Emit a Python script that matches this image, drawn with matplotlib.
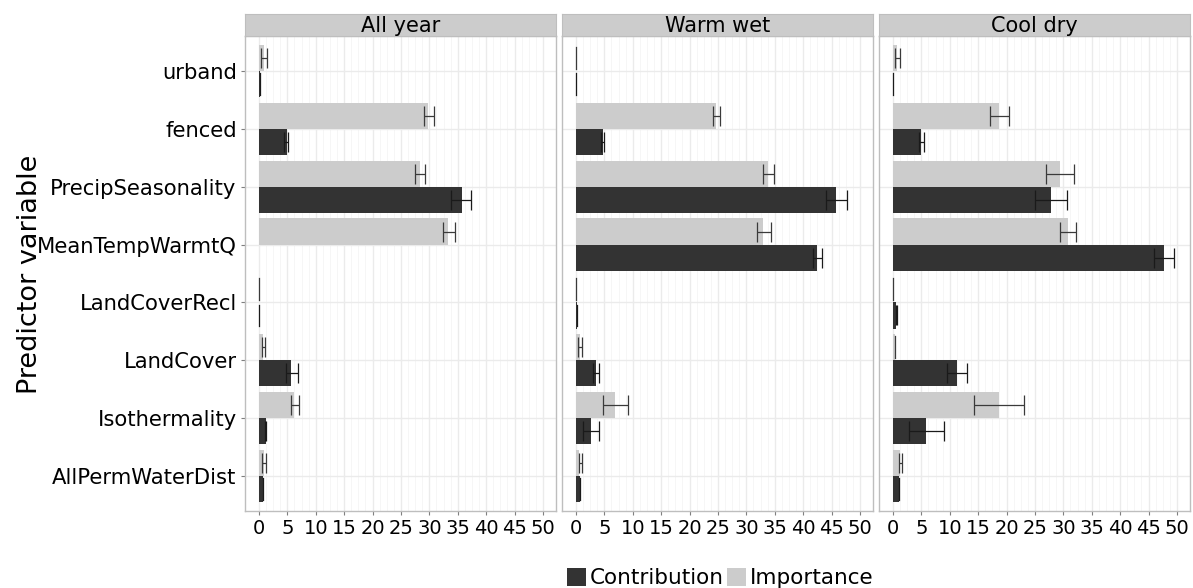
import numpy as np
import matplotlib.pyplot as plt
from matplotlib.patches import Patch

plt.rcParams['font.family'] = ['DejaVu Sans']

predictors = ["urband", "fenced", "PrecipSeasonality", "MeanTempWarmtQ",
              "LandCoverRecl", "LandCover", "Isothermality", "AllPermWaterDist"]
seasons = ["All year", "Warm wet", "Cool dry"]

# importance (mean, lower, upper), top-to-bottom order of predictors
imp_all = [0.9, 29.8, 28.3, 33.3, 0.1, 0.8, 6.2, 0.9]
imp_all_lo = [0.3, 29.0, 27.5, 32.4, 0.0, 0.5, 5.6, 0.6]
imp_all_hi = [1.5, 30.8, 29.3, 34.5, 0.2, 1.1, 7.1, 1.3]
con_all = [0.2, 4.9, 35.7, 0.0, 0.1, 5.7, 1.2, 0.8]
con_all_lo = [0.1, 4.4, 33.9, 0.0, 0.0, 4.8, 1.0, 0.7]
con_all_hi = [0.3, 5.1, 37.4, 0.0, 0.2, 6.8, 1.3, 0.9]

imp_warm = [0.1, 24.7, 33.9, 32.9, 0.1, 0.7, 6.9, 0.6]
imp_warm_lo = [0.0, 24.2, 32.9, 31.8, 0.0, 0.4, 4.8, 0.5]
imp_warm_hi = [0.2, 25.4, 34.9, 34.3, 0.2, 1.0, 9.2, 1.0]
con_warm = [0.1, 4.7, 45.8, 42.4, 0.15, 3.5, 2.6, 0.8]
con_warm_lo = [0.0, 4.4, 44.0, 41.7, 0.1, 3.0, 1.2, 0.7]
con_warm_hi = [0.2, 5.0, 47.8, 43.3, 0.2, 4.1, 4.0, 0.9]

imp_cool = [0.7, 18.6, 29.4, 30.8, 0.1, 0.3, 18.6, 1.2]
imp_cool_lo = [0.3, 17.1, 26.9, 29.4, 0.0, 0.2, 14.3, 1.05]
imp_cool_hi = [1.3, 20.4, 31.9, 32.3, 0.2, 0.4, 23.0, 1.6]
con_cool = [0.1, 5.0, 27.8, 47.7, 0.6, 11.3, 5.9, 1.05]
con_cool_lo = [0.0, 4.6, 25.0, 46.0, 0.5, 9.6, 2.9, 1.0]
con_cool_hi = [0.2, 5.4, 30.6, 49.4, 0.8, 13.0, 9.0, 1.2]

importance = [(imp_all, imp_all_lo, imp_all_hi),
              (imp_warm, imp_warm_lo, imp_warm_hi),
              (imp_cool, imp_cool_lo, imp_cool_hi)]
contribution = [(con_all, con_all_lo, con_all_hi),
                (con_warm, con_warm_lo, con_warm_hi),
                (con_cool, con_cool_lo, con_cool_hi)]

dark = "#333333"
light = "#CCCCCC"
border = "#BEBEBE"

W, H = 1193, 588
fig = plt.figure(figsize=(W / 100, H / 100), dpi=100)

panel_left = [245, 562, 879]
panel_w = 311
top, bottom = 36, 511
strip_top = 14

ypos = np.arange(len(predictors))[::-1] + 1  # urband at top
bh = 0.45


def draw_errors(ax, ys, vals, lows, highs, colour):
    for y, v, lo, hi in zip(ys, vals, lows, highs):
        if v <= 0:
            continue
        if hi - lo < 0.25:
            # tiny interval: ggplot shows just a thin vertical stroke
            ax.plot([v, v], [y - bh * 0.42, y + bh * 0.42], color=colour, lw=0.9, zorder=3)
            continue
        ax.errorbar(v, y, xerr=[[v - lo], [hi - v]], fmt='none', ecolor=colour,
                    elinewidth=0.9, capsize=7.5, capthick=0.9, zorder=3)


for i, season in enumerate(seasons):
    ax = fig.add_axes([panel_left[i] / W, 1 - bottom / H, panel_w / W, (bottom - top) / H])
    imp, imp_lo, imp_hi = importance[i]
    con, con_lo, con_hi = contribution[i]
    ax.barh(ypos + bh / 2, imp, height=bh, color=light, zorder=2)
    ax.barh(ypos - bh / 2, con, height=bh, color=dark, zorder=2)
    draw_errors(ax, ypos + bh / 2, imp, imp_lo, imp_hi, '#3a3a3a')
    draw_errors(ax, ypos - bh / 2, con, con_lo, con_hi, '#1a1a1a')

    ax.set_xlim(-2.45, 52.3)
    ax.set_ylim(0.4, 8.6)
    ax.set_xticks(np.arange(0, 51, 5))
    ax.set_xticks(np.arange(0, 51, 1.25), minor=True)
    ax.set_yticks(ypos)
    ax.grid(True, which='major', color='#EBEBEB', linewidth=1.0, zorder=0)
    ax.grid(True, which='minor', axis='x', color='#F5F5F5', linewidth=0.6, zorder=0)
    ax.set_axisbelow(True)
    for s in ax.spines.values():
        s.set_color(border)
        s.set_linewidth(1.0)
    ax.tick_params(axis='both', which='major', length=3, color='#7F7F7F',
                   labelcolor='black', pad=3)
    ax.tick_params(axis='x', labelsize=14)
    ax.tick_params(axis='y', labelsize=15.2)
    ax.tick_params(axis='x', which='minor', length=0)
    if i == 0:
        ax.set_yticklabels(predictors)
    else:
        ax.set_yticklabels([])
        ax.tick_params(axis='y', length=0)

    sax = fig.add_axes([panel_left[i] / W, 1 - top / H, panel_w / W, (top - strip_top) / H])
    sax.set_facecolor(light)
    sax.set_xticks([]); sax.set_yticks([])
    for s in sax.spines.values():
        s.set_color(border)
    sax.text(0.5, 0.45, season, ha='center', va='center', fontsize=15,
             transform=sax.transAxes)

fig.text(30 / W, 1 - 274 / H, "Predictor variable", rotation=90, ha='center', va='center',
         fontsize=19.5)

handles = [Patch(facecolor=dark, label="Contribution"), Patch(facecolor=light, label="Importance")]
fig.legend(handles=handles, loc='center', bbox_to_anchor=(720 / W, 1 - 578 / H), ncol=2,
           frameon=False, fontsize=15.5, handlelength=0.9, handleheight=0.9,
           handletextpad=0.15, columnspacing=0.15, borderpad=0)

fig.savefig("out.png", dpi=100)
